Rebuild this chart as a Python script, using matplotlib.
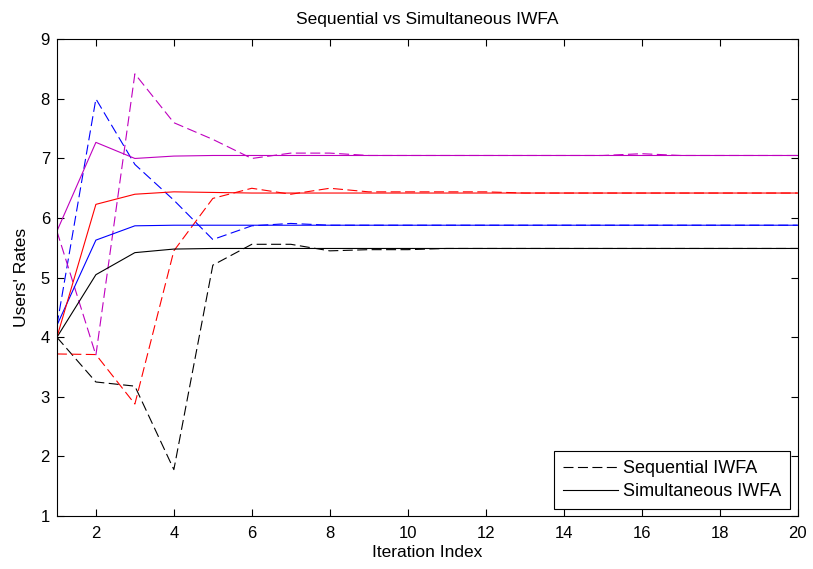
import numpy as np
import matplotlib.pyplot as plt

plt.rcParams['font.family'] = ['Liberation Sans', 'DejaVu Sans']

iters = np.arange(1, 21)

# sequential IWFA (dashed)
seq_black = [4.0, 3.25, 3.18, 1.78, 5.21, 5.56, 5.56, 5.45, 5.47, 5.47,
             5.49, 5.49, 5.49, 5.49, 5.49, 5.49, 5.49, 5.49, 5.49, 5.49]
seq_blue = [4.2, 8.0, 6.9, 6.3, 5.64, 5.87, 5.91, 5.88, 5.88, 5.88,
            5.88, 5.88, 5.88, 5.88, 5.88, 5.88, 5.88, 5.88, 5.88, 5.88]
seq_red = [3.72, 3.71, 2.88, 5.45, 6.33, 6.5, 6.4, 6.5, 6.44, 6.44,
           6.44, 6.44, 6.42, 6.42, 6.42, 6.42, 6.42, 6.42, 6.42, 6.42]
seq_mag = [5.78, 3.7, 8.42, 7.6, 7.32, 7.0, 7.09, 7.09, 7.05, 7.05,
           7.05, 7.05, 7.05, 7.05, 7.05, 7.08, 7.05, 7.05, 7.05, 7.05]

# simultaneous IWFA (solid)
sim_black = [4.0, 5.05, 5.42, 5.48, 5.49, 5.49, 5.49, 5.49, 5.49, 5.49,
             5.49, 5.49, 5.49, 5.49, 5.49, 5.49, 5.49, 5.49, 5.49, 5.49]
sim_blue = [4.2, 5.63, 5.87, 5.88, 5.88, 5.88, 5.88, 5.88, 5.88, 5.88,
            5.88, 5.88, 5.88, 5.88, 5.88, 5.88, 5.88, 5.88, 5.88, 5.88]
sim_red = [4.0, 6.23, 6.4, 6.44, 6.43, 6.42, 6.42, 6.42, 6.42, 6.42,
           6.42, 6.42, 6.42, 6.42, 6.42, 6.42, 6.42, 6.42, 6.42, 6.42]
sim_mag = [5.78, 7.27, 7.0, 7.04, 7.05, 7.05, 7.05, 7.05, 7.05, 7.05,
           7.05, 7.05, 7.05, 7.05, 7.05, 7.05, 7.05, 7.05, 7.05, 7.05]

fig = plt.figure(figsize=(8.13, 5.69), dpi=100)
ax = fig.add_axes([0.070, 0.093, 0.911, 0.838])

dash = (9, 4)
lw = 0.8
ax.plot(iters, seq_black, color='k', lw=lw, dashes=dash, label='Sequential IWFA')
ax.plot(iters, seq_blue, color='b', lw=lw, dashes=dash)
ax.plot(iters, seq_red, color='r', lw=lw, dashes=dash)
ax.plot(iters, seq_mag, color='m', lw=lw, dashes=dash)

ax.plot(iters, sim_black, color='k', lw=lw, label='Simultaneous IWFA')
ax.plot(iters, sim_blue, color='b', lw=lw)
ax.plot(iters, sim_red, color='r', lw=lw)
ax.plot(iters, sim_mag, color='m', lw=lw)

ax.set_xlim(1, 20)
ax.set_ylim(1, 9)
ax.set_xticks([2, 4, 6, 8, 10, 12, 14, 16, 18, 20])
ax.set_yticks(range(1, 10))
ax.tick_params(direction='in', top=True, right=True, labelsize=12, length=5)
ax.tick_params(axis='x', pad=7)
ax.tick_params(axis='y', pad=5)
for sp in ax.spines.values():
    sp.set_linewidth(0.8)

ax.set_title('Sequential vs Simultaneous IWFA', fontsize=12.5, pad=11)
ax.set_xlabel('Iteration Index', fontsize=12.5, labelpad=3)
ax.set_ylabel("Users' Rates", fontsize=12.5, labelpad=8)

leg = ax.legend(loc='lower right', fancybox=False, edgecolor='k', framealpha=1,
                fontsize=13, handlelength=3.0, handletextpad=0.3, borderpad=0.5,
                labelspacing=0.3, borderaxespad=0.4)
leg.get_frame().set_linewidth(0.8)

fig.savefig('out.png', dpi=100)
